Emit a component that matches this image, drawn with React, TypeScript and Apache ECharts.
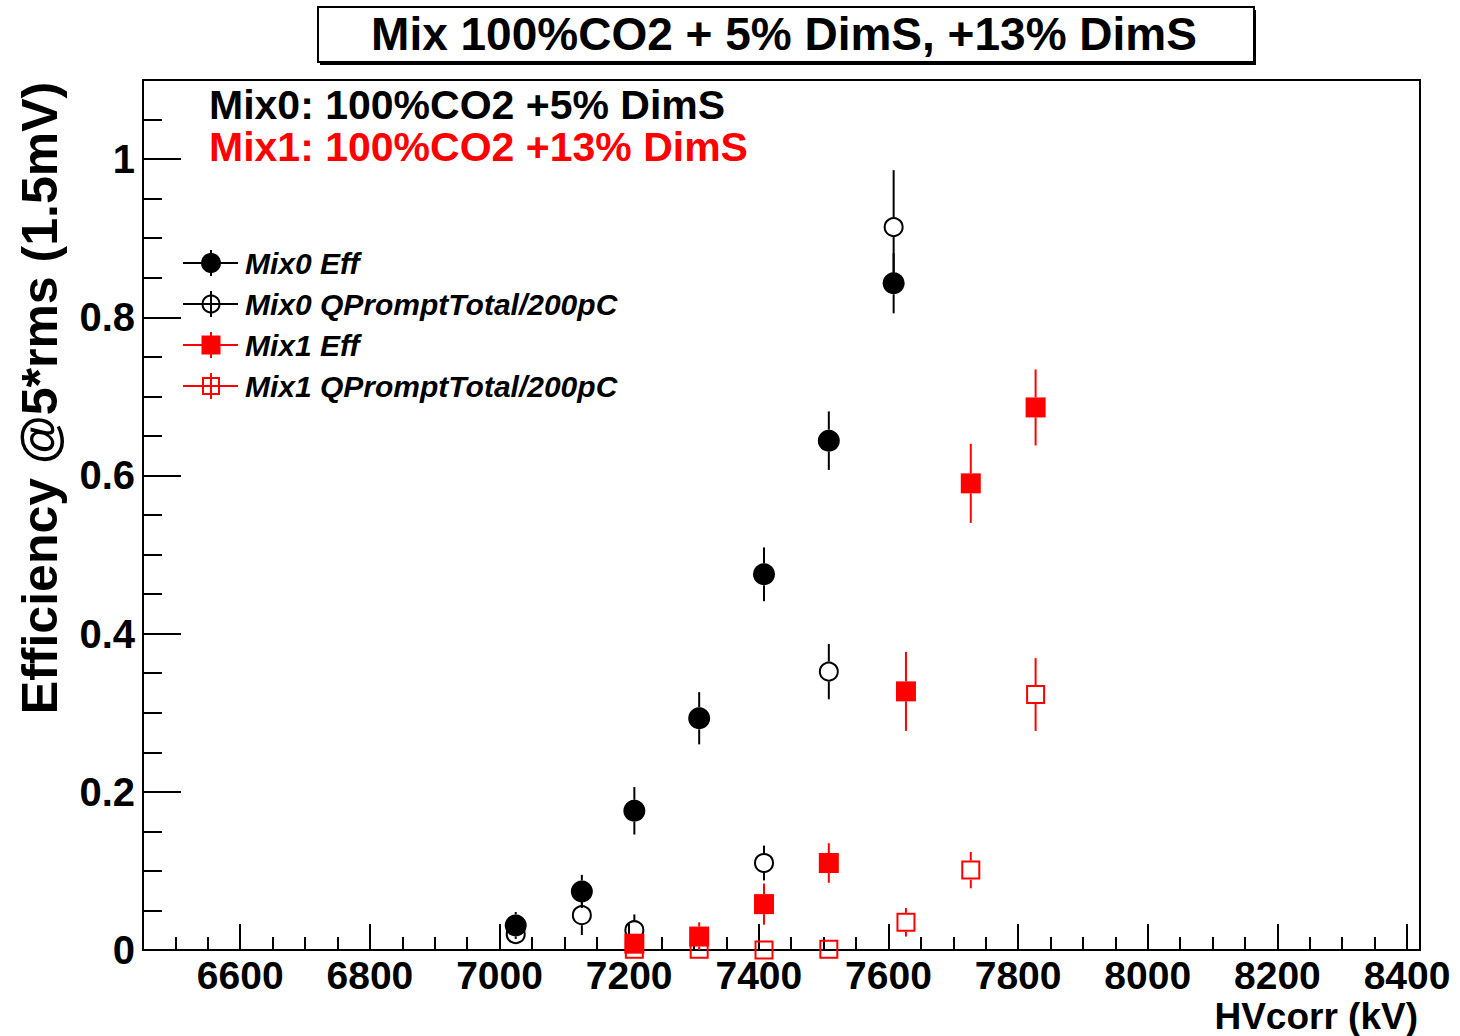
import React, { useEffect, useRef } from "react";
import * as echarts from "echarts";

// ---------- data ----------
const xMajorTicks = [6600, 6800, 7000, 7200, 7400, 7600, 7800, 8000, 8200, 8400];
const yMajorTicks = [0, 0.2, 0.4, 0.6, 0.8, 1.0];
const xMinorTicks: number[] = [];
for (let v = 6500; v <= 8400; v += 50) if (v % 200 !== 0) xMinorTicks.push(v);
const yMinorTicks: number[] = [];
for (let i = 1; i <= 21; i++) if (i % 4 !== 0) yMinorTicks.push(+(i * 0.05).toFixed(2));

const mix0EffHV = [7025, 7127, 7208, 7308, 7408, 7508, 7608];
const mix0EffVal = [0.031, 0.074, 0.176, 0.293, 0.475, 0.644, 0.843];
const mix0EffErr = [0.017, 0.021, 0.030, 0.033, 0.034, 0.037, 0.038];

const mix0QHV = [7025, 7127, 7208, 7408, 7508, 7608];
const mix0QVal = [0.020, 0.044, 0.025, 0.110, 0.352, 0.914];
const mix0QErr = [0.012, 0.025, 0.020, 0.022, 0.035, 0.072];

const mix1EffHV = [7208, 7308, 7408, 7508, 7627, 7727, 7827];
const mix1EffVal = [0.008, 0.017, 0.058, 0.110, 0.327, 0.590, 0.686];
const mix1EffErr = [0.008, 0.018, 0.026, 0.025, 0.050, 0.050, 0.048];

const mix1QHV = [7208, 7308, 7408, 7508, 7627, 7727, 7827];
const mix1QVal = [0.001, 0.001, 0.0, 0.001, 0.035, 0.101, 0.323];
const mix1QErr = [0.003, 0.003, 0.002, 0.002, 0.018, 0.023, 0.046];

const legendNames = [
  "Mix0 Eff",
  "Mix0 QPromptTotal/200pC",
  "Mix1 Eff",
  "Mix1 QPromptTotal/200pC",
];

const titleText = "Mix 100%CO2 + 5% DimS, +13% DimS";
const mix0Text = "Mix0: 100%CO2 +5% DimS";
const mix1Text = "Mix1: 100%CO2 +13% DimS";
const xTitle = "HVcorr (kV)";
const yTitle = "Efficiency @5*rms (1.5mV)";

// ---------- styles ----------
const FONT = "'Liberation Sans', Arial, Helvetica, sans-serif";
const BLACK = "#000000";
const RED = "#ff0000";

type Shape = "circle" | "square";

function markerEl(shape: Shape, filled: boolean, color: string, cx: number, cy: number) {
  if (shape === "circle") {
    return filled
      ? { type: "circle", shape: { cx, cy, r: 11 }, style: { fill: color, stroke: color, lineWidth: 0 } }
      : { type: "circle", shape: { cx, cy, r: 9 }, style: { fill: "none", stroke: color, lineWidth: 2 } };
  }
  return filled
    ? { type: "rect", shape: { x: cx - 10, y: cy - 10, width: 20, height: 20 }, style: { fill: color, lineWidth: 0 } }
    : { type: "rect", shape: { x: cx - 8.5, y: cy - 8.5, width: 17, height: 17 }, style: { fill: "none", stroke: color, lineWidth: 2 } };
}

function errSeries(
  name: string,
  hv: number[],
  val: number[],
  err: number[],
  shape: Shape,
  filled: boolean,
  color: string
) {
  const half = shape === "circle" ? (filled ? 11 : 10) : filled ? 10 : 9.5;
  return {
    type: "custom",
    name,
    clip: false,
    xAxisIndex: 0,
    yAxisIndex: 0,
    data: hv.map((x, i) => [x, val[i], err[i]]),
    renderItem: (params: any, api: any) => {
      const x = api.value(0);
      const y = api.value(1);
      const e = api.value(2);
      const c = api.coord([x, y]);
      const t = api.coord([x, y + e]);
      const b = api.coord([x, Math.max(y - e, 0)]);
      const children: any[] = [];
      if (t[1] < c[1] - half) {
        children.push({
          type: "line",
          shape: { x1: c[0], y1: t[1], x2: c[0], y2: c[1] - half },
          style: { stroke: color, lineWidth: 2 },
        });
      }
      if (b[1] > c[1] + half) {
        children.push({
          type: "line",
          shape: { x1: c[0], y1: c[1] + half, x2: c[0], y2: b[1] },
          style: { stroke: color, lineWidth: 2 },
        });
      }
      children.push(markerEl(shape, filled, color, c[0], c[1]));
      return { type: "group", children };
    },
  };
}

function legendRow(i: number, shape: Shape, filled: boolean, color: string) {
  const y = 263 + 41 * i;
  const x = 211;
  return {
    type: "group",
    children: [
      { type: "line", shape: { x1: 183, y1: y, x2: 238, y2: y }, style: { stroke: color, lineWidth: 2 } },
      { type: "line", shape: { x1: x, y1: y - 13, x2: x, y2: y + 13 }, style: { stroke: color, lineWidth: 2 } },
      shape === "circle"
        ? filled
          ? { type: "circle", shape: { cx: x, cy: y, r: 10 }, style: { fill: color } }
          : { type: "circle", shape: { cx: x, cy: y, r: 8.5 }, style: { fill: "none", stroke: color, lineWidth: 2 } }
        : filled
        ? { type: "rect", shape: { x: x - 9.5, y: y - 9.5, width: 19, height: 19 }, style: { fill: color } }
        : { type: "rect", shape: { x: x - 8, y: y - 8, width: 16, height: 16 }, style: { fill: "none", stroke: color, lineWidth: 2 } },
      {
        type: "text",
        style: {
          text: legendNames[i],
          x: 245,
          y,
          fill: BLACK,
          fontSize: 30,
          fontWeight: "bold",
          fontStyle: "italic",
          fontFamily: FONT,
          textAlign: "left",
          textVerticalAlign: "middle",
          lineHeight: 32,
        },
      },
    ],
  };
}

const axisLabelStyle = {
  color: BLACK,
  fontSize: 39,
  fontWeight: "bold",
  fontFamily: FONT,
  lineHeight: 30,
};

export default function App() {
  const ref = useRef<HTMLDivElement>(null);

  useEffect(() => {
    if (!ref.current) return;
    const chart = echarts.init(ref.current, undefined, { renderer: "svg" });
    const option: any = {
      animation: false,
      backgroundColor: "#ffffff",
      grid: {
        left: 143,
        top: 80,
        width: 1277,
        height: 870,
        show: true,
        borderColor: BLACK,
        borderWidth: 2,
        backgroundColor: "transparent",
        containLabel: false,
      },
      xAxis: [
        {
          type: "value",
          min: 6450,
          max: 8420,
          position: "bottom",
          axisLine: { show: false },
          splitLine: { show: false },
          axisTick: { show: true, inside: true, length: 26, customValues: xMajorTicks, lineStyle: { color: BLACK, width: 2 } },
          axisLabel: { show: true, customValues: xMajorTicks, formatter: (v: number) => String(v), margin: 10, ...axisLabelStyle },
        },
        {
          type: "value",
          min: 6450,
          max: 8420,
          position: "bottom",
          axisLine: { show: false },
          splitLine: { show: false },
          axisTick: { show: true, inside: true, length: 13, customValues: xMinorTicks, lineStyle: { color: BLACK, width: 2 } },
          axisLabel: { show: false },
        },
      ],
      yAxis: [
        {
          type: "value",
          min: 0,
          max: 1.1,
          position: "left",
          axisLine: { show: false },
          splitLine: { show: false },
          axisTick: { show: true, inside: true, length: 38, customValues: yMajorTicks, lineStyle: { color: BLACK, width: 2 } },
          axisLabel: { show: true, customValues: yMajorTicks, formatter: (v: number) => String(v), margin: 8, ...axisLabelStyle, fontSize: 40 },
        },
        {
          type: "value",
          min: 0,
          max: 1.1,
          position: "left",
          axisLine: { show: false },
          splitLine: { show: false },
          axisTick: { show: true, inside: true, length: 19, customValues: yMinorTicks, lineStyle: { color: BLACK, width: 2 } },
          axisLabel: { show: false },
        },
      ],
      series: [
        errSeries(legendNames[0], mix0EffHV, mix0EffVal, mix0EffErr, "circle", true, BLACK),
        errSeries(legendNames[1], mix0QHV, mix0QVal, mix0QErr, "circle", false, BLACK),
        errSeries(legendNames[2], mix1EffHV, mix1EffVal, mix1EffErr, "square", true, RED),
        errSeries(legendNames[3], mix1QHV, mix1QVal, mix1QErr, "square", false, RED),
      ],
      graphic: [
        { type: "rect", shape: { x: 320, y: 10, width: 936, height: 55 }, style: { fill: BLACK } },
        { type: "rect", shape: { x: 318, y: 7, width: 936, height: 55 }, style: { fill: "#ffffff", stroke: BLACK, lineWidth: 2 } },
        {
          type: "text",
          style: {
            text: titleText,
            x: 784,
            y: 34,
            fill: BLACK,
            fontSize: 46,
            fontWeight: "bold",
            fontFamily: FONT,
            textAlign: "center",
            textVerticalAlign: "middle",
          },
        },
        {
          type: "text",
          style: {
            text: mix0Text,
            x: 209,
            y: 105,
            fill: BLACK,
            fontSize: 41,
            fontWeight: "bold",
            fontFamily: FONT,
            textAlign: "left",
            textVerticalAlign: "middle",
            lineHeight: 36,
          },
        },
        {
          type: "text",
          style: {
            text: mix1Text,
            x: 209,
            y: 147,
            fill: RED,
            fontSize: 41,
            fontWeight: "bold",
            fontFamily: FONT,
            textAlign: "left",
            textVerticalAlign: "middle",
            lineHeight: 36,
          },
        },
        {
          type: "text",
          style: {
            text: xTitle,
            x: 1418,
            y: 1016,
            fill: BLACK,
            fontSize: 37,
            fontWeight: "bold",
            fontFamily: FONT,
            textAlign: "right",
            textVerticalAlign: "middle",
            lineHeight: 30,
          },
        },
        {
          type: "text",
          x: 40,
          y: 398,
          rotation: Math.PI / 2,
          style: {
            text: yTitle,
            x: 0,
            y: 0,
            fill: BLACK,
            fontSize: 50,
            fontWeight: "bold",
            fontFamily: FONT,
            textAlign: "center",
            textVerticalAlign: "middle",
          },
        },
        legendRow(0, "circle", true, BLACK),
        legendRow(1, "circle", false, BLACK),
        legendRow(2, "square", true, RED),
        legendRow(3, "square", false, RED),
      ],
    };
    chart.setOption(option);
    return () => {
      chart.dispose();
    };
  }, []);

  return (
    <div
      ref={ref}
      style={{ position: "absolute", left: 0, top: 0, width: 1460, height: 1036, background: "#ffffff" }}
    />
  );
}
